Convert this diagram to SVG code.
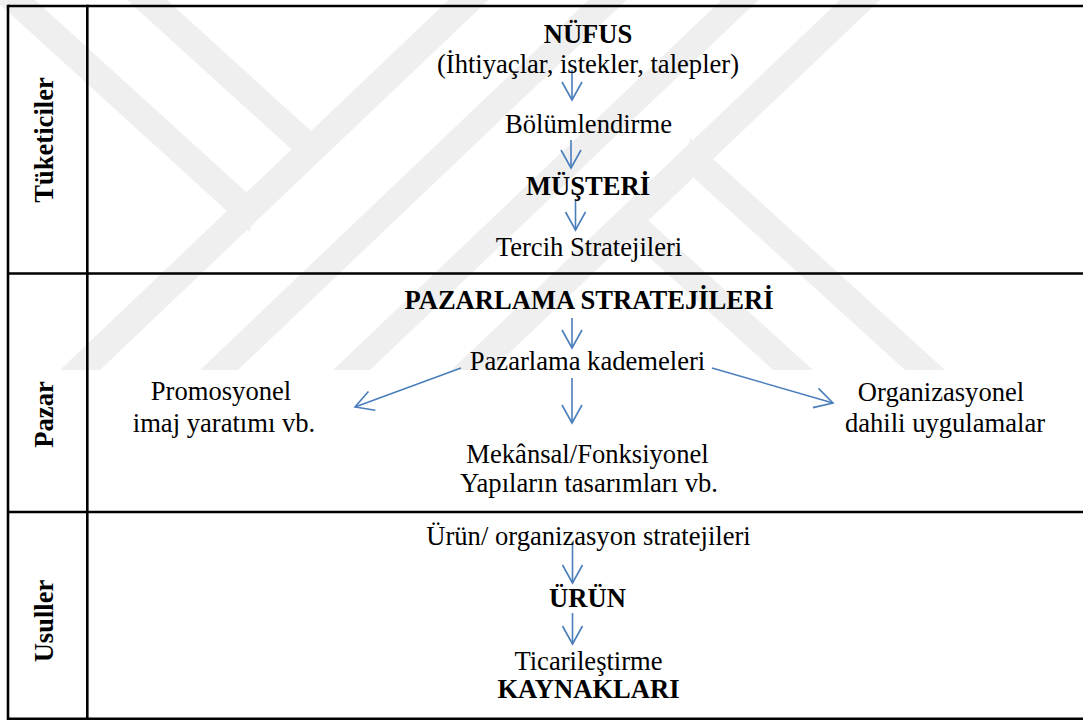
<svg xmlns="http://www.w3.org/2000/svg" width="1083" height="720" viewBox="0 0 1083 720">
<style>
.t{font-family:"Liberation Serif","Times New Roman",serif;font-size:26.6px;fill:#000;text-anchor:middle}
.b{font-weight:bold}
.grid{stroke:#000;stroke-width:2.6;fill:none}
.arr{stroke:#4A7EBB;stroke-width:1.6;fill:none;marker-end:url(#ah)}
.wm{fill:#efefef}
</style>
<defs>
<marker id="ah" markerUnits="userSpaceOnUse" markerWidth="22" markerHeight="24" refX="18" refY="11" orient="auto" viewBox="-2 -1 22 24">
<path d="M0,1 L18,11 L0,21" fill="none" stroke="#4A7EBB" stroke-width="1.6"/>
</marker>
<clipPath id="wmclip"><rect x="0" y="0" width="1083" height="370"/></clipPath>
</defs>
<rect x="0" y="0" width="1083" height="720" fill="#fff"/>
<g id="watermark" clip-path="url(#wmclip)">
<g id="wm-half">
<polygon class="wm" points="60,370 100,370 488.5,0 448.5,0"/>
<polygon class="wm" points="-5,0 35,0 255,200 250,232"/>
<polygon class="wm" points="127,0 167,0 311,131 312,168"/>
</g>
<use href="#wm-half" transform="rotate(180 470 185)"/>
<polygon class="wm" points="200,370 238,370 626.5,0 588.5,0"/>
<polygon class="wm" points="333,370 370,370 758.5,0 721.5,0"/>
</g>
<g id="table">
<line class="grid" x1="8" y1="6" x2="1083" y2="6"/>
<line class="grid" x1="8" y1="273.5" x2="1083" y2="273.5"/>
<line class="grid" x1="8" y1="512" x2="1083" y2="512"/>
<line class="grid" x1="8" y1="718.7" x2="1083" y2="718.7"/>
<line class="grid" x1="8" y1="4.7" x2="8" y2="720"/>
<line class="grid" x1="87.3" y1="4.7" x2="87.3" y2="720"/>
</g>
<g id="row-labels">
<text class="t b" transform="translate(53,140) rotate(-90)">Tüketiciler</text>
<text class="t b" transform="translate(53,414.5) rotate(-90)">Pazar</text>
<text class="t b" transform="translate(53,621) rotate(-90)">Usuller</text>
</g>
<g id="connectors">
<line class="arr" x1="572" y1="70" x2="572" y2="100"/>
<line class="arr" x1="571" y1="140" x2="571" y2="168"/>
<line class="arr" x1="575.5" y1="199" x2="575.5" y2="230"/>
<line class="arr" x1="572" y1="318" x2="572" y2="348"/>
<line class="arr" x1="572" y1="378" x2="572" y2="423"/>
<line class="arr" x1="461" y1="368" x2="355" y2="407"/>
<line class="arr" x1="712" y1="368" x2="833" y2="403"/>
<line class="arr" x1="572.5" y1="542" x2="572.5" y2="583"/>
<line class="arr" x1="572.5" y1="613" x2="572.5" y2="644"/>
</g>
<g id="n-nufus"><text class="t b" x="588" y="43">NÜFUS</text><text class="t" x="588" y="73">(İhtiyaçlar, istekler, talepler)</text></g>
<g id="n-bolumlendirme"><text class="t" x="588.5" y="133">Bölümlendirme</text></g>
<g id="n-musteri"><text class="t b" x="588" y="195">MÜŞTERİ</text></g>
<g id="n-tercih"><text class="t" x="589" y="256">Tercih Stratejileri</text></g>
<g id="n-pazarlama-stratejileri"><text class="t b" x="589" y="309">PAZARLAMA STRATEJİLERİ</text></g>
<g id="n-pazarlama-kademeleri"><text class="t" x="587.5" y="370">Pazarlama kademeleri</text></g>
<g id="n-promosyonel"><text class="t" x="221" y="400">Promosyonel</text><text class="t" x="224" y="432">imaj yaratımı vb.</text></g>
<g id="n-organizasyonel"><text class="t" x="941" y="401">Organizasyonel</text><text class="t" x="945" y="432">dahili uygulamalar</text></g>
<g id="n-mekansal"><text class="t" x="587.5" y="463">Mekânsal/Fonksiyonel</text><text class="t" x="589" y="492">Yapıların tasarımları vb.</text></g>
<g id="n-urun-org"><text class="t" x="588.5" y="545">Ürün/ organizasyon stratejileri</text></g>
<g id="n-urun"><text class="t b" x="587.5" y="607">ÜRÜN</text></g>
<g id="n-kaynaklari"><text class="t" x="588.5" y="670">Ticarileştirme</text><text class="t b" x="588.5" y="698">KAYNAKLARI</text></g>
</svg>
